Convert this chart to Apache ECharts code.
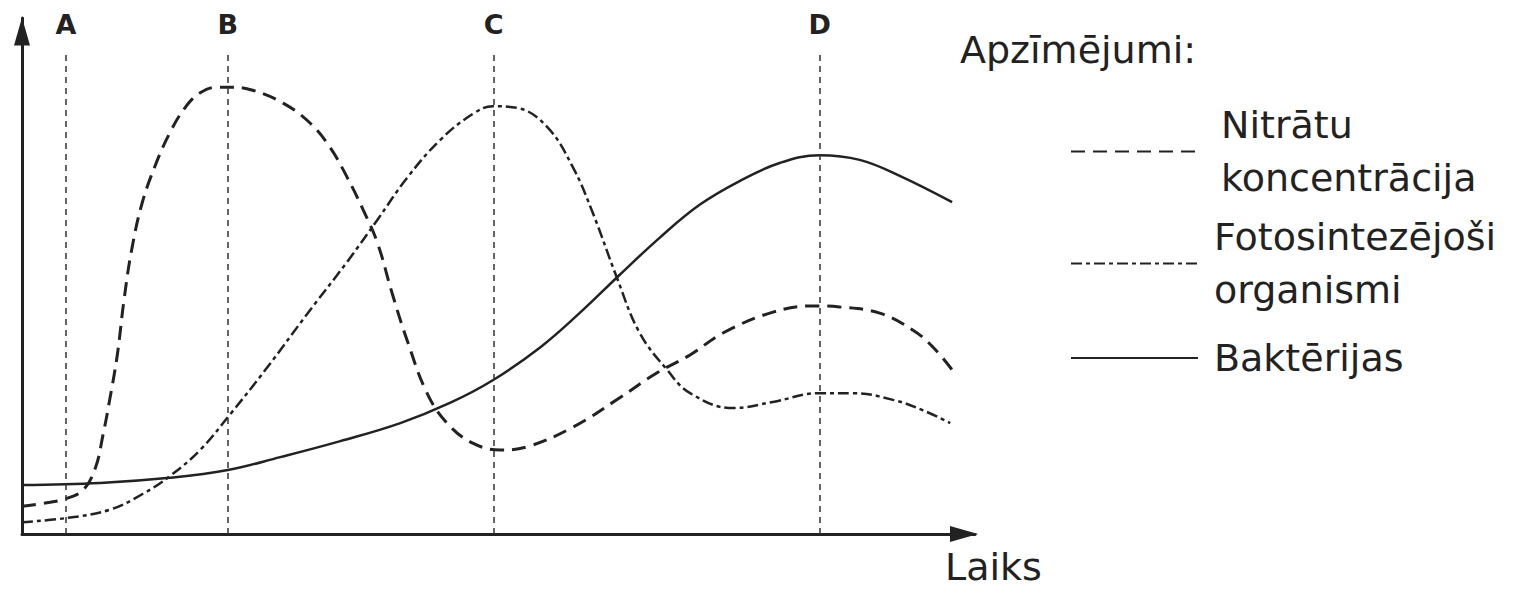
<!DOCTYPE html>
<html><head><meta charset="utf-8">
<script src="https://cdn.jsdelivr.net/npm/echarts@6/dist/echarts.min.js"></script>
<style>html,body{margin:0;padding:0;background:#fff}#c{width:1517px;height:590px}</style>
</head><body><div id="c"></div>
<script>
const seriesNames = ['Nitrātu\nkoncentrācija', 'Fotosintezējoši\norganismi', 'Baktērijas'];
const nitrate = [[0,5.4],[2.4,6.0],[4.5,6.8],[6.4,8.5],[7.7,12.8],[8.5,19.2],[9.2,26.0],[10.0,34.7],[10.7,45.3],[11.5,55.0],[12.6,64.1],[14.0,71.5],[15.5,77.7],[17.1,82.6],[18.7,85.5],[20.5,86.6],[22.0,86.6],[24.2,86.0],[27.4,83.5],[30.2,79.7],[32.3,75.0],[34.1,69.2],[35.8,62.8],[37.3,56.4],[38.8,46.9],[40.4,37.6],[42.5,27.3],[44.6,21.5],[47.3,17.6],[50.2,16.3],[53.0,16.9],[57.8,20.7],[62.4,26.0],[66.6,31.2],[70.1,34.7],[73.6,39.0],[78.8,43.0],[83.0,44.2],[85.8,44.0],[90.0,42.8],[93.5,39.5],[95.6,36.2],[97.6,31.8]];
const photo = [[0,2.3],[4.7,3.1],[9.2,4.7],[12.7,7.8],[15.5,11.2],[18.7,16.3],[21.8,23.1],[25.7,32.2],[29.9,42.6],[34.1,52.7],[37.3,60.9],[40.4,69.0],[43.9,76.4],[47.3,81.4],[49.4,82.9],[51.9,82.6],[55.1,78.9],[57.8,71.1],[59.9,62.2],[62.4,49.8],[64.8,39.0],[67.7,31.8],[70.1,27.3],[74.6,24.4],[78.8,25.6],[83.7,27.3],[87.2,27.3],[91.4,26.0],[94.5,24.0],[97.4,21.5]];
const bacteria = [[0,9.5],[8.2,9.9],[15.5,10.9],[21.6,12.4],[27.1,14.9],[33.4,18.0],[39.7,21.5],[44.9,25.4],[49.4,29.8],[54.4,36.2],[58.5,42.8],[62.7,50.2],[66.9,57.4],[71.1,63.8],[75.3,68.4],[79.5,71.9],[83.7,73.4],[87.9,72.5],[92.1,69.4],[97.6,64.3]];
const markerNames = ['A', 'B', 'C', 'D'];
const markerTimes = [4.6, 21.6, 49.5, 83.7];
const markerTop = 93.4;
const legendTitle = 'Apzīmējumi:';
const xAxisName = 'Laiks';

const ink = '#222';
const font = 'DejaVu Sans';
const chart = echarts.init(document.getElementById('c'), null, {renderer: 'svg'});
const legendText = {fontFamily: font, fontSize: 38, color: ink, lineHeight: 53};
function legendFor(i, top, padLeft) {
  return {data: [seriesNames[i]], left: 1070, top: top, orient: 'vertical', padding: 0,
    itemWidth: 127, itemHeight: 14, selectedMode: false,
    itemStyle: {opacity: 0, borderWidth: 0},
    textStyle: Object.assign({}, legendText, {padding: [0, 0, 0, padLeft]})};
}
function axisBase(offset) {
  return {type: 'value', min: 0, max: 100,
    axisLine: {onZero: false, lineStyle: {color: ink, width: 3},
      symbol: ['none', 'triangle'], symbolSize: [16, 28], symbolOffset: [0, offset]},
    axisTick: {show: false}, axisLabel: {show: false}, splitLine: {show: false}};
}
const xAxis = axisBase(-11);
xAxis.name = xAxisName;
xAxis.nameLocation = 'end';
xAxis.nameGap = -30;
xAxis.nameTextStyle = {fontFamily: font, fontSize: 38, color: ink, align: 'left', verticalAlign: 'top', lineHeight: 40, padding: [13, 0, 0, 0]};

chart.setOption({
  animation: false,
  title: {text: legendTitle, left: 960, top: 30, padding: 0,
    textStyle: {fontFamily: font, fontSize: 38, fontWeight: 'normal', color: ink, lineHeight: 40}},
  grid: {left: 22, top: 18, width: 953, height: 516},
  xAxis: xAxis,
  yAxis: axisBase(-13.5),
  legend: [legendFor(0, 98.5, 18), legendFor(1, 210.5, 11), legendFor(2, 331.5, 11)],
  series: [
    {name: seriesNames[0], type: 'line', data: nitrate, smooth: 0.4, symbol: 'none', showSymbol: false,
      itemStyle: {color: ink}, lineStyle: {color: ink, width: 3, type: [14, 8]},
      markLine: {silent: true, symbol: ['none', 'none'],
        lineStyle: {color: '#333', width: 1.5, type: [6, 5]},
        label: {show: true, position: 'end', formatter: '{b}', fontFamily: font, fontWeight: 'bold', fontSize: 27, color: ink, distance: 14},
        data: markerTimes.map((t, i) => [{coord: [t, 0], name: markerNames[i]}, {coord: [t, markerTop]}])}},
    {name: seriesNames[1], type: 'line', data: photo, smooth: 0.4, symbol: 'none', showSymbol: false,
      itemStyle: {color: ink}, lineStyle: {color: ink, width: 2.5, type: [11, 4, 4, 4]}},
    {name: seriesNames[2], type: 'line', data: bacteria, smooth: 0.4, symbol: 'none', showSymbol: false,
      itemStyle: {color: ink}, lineStyle: {color: ink, width: 2.5}}
  ]
});
</script>
</body></html>
